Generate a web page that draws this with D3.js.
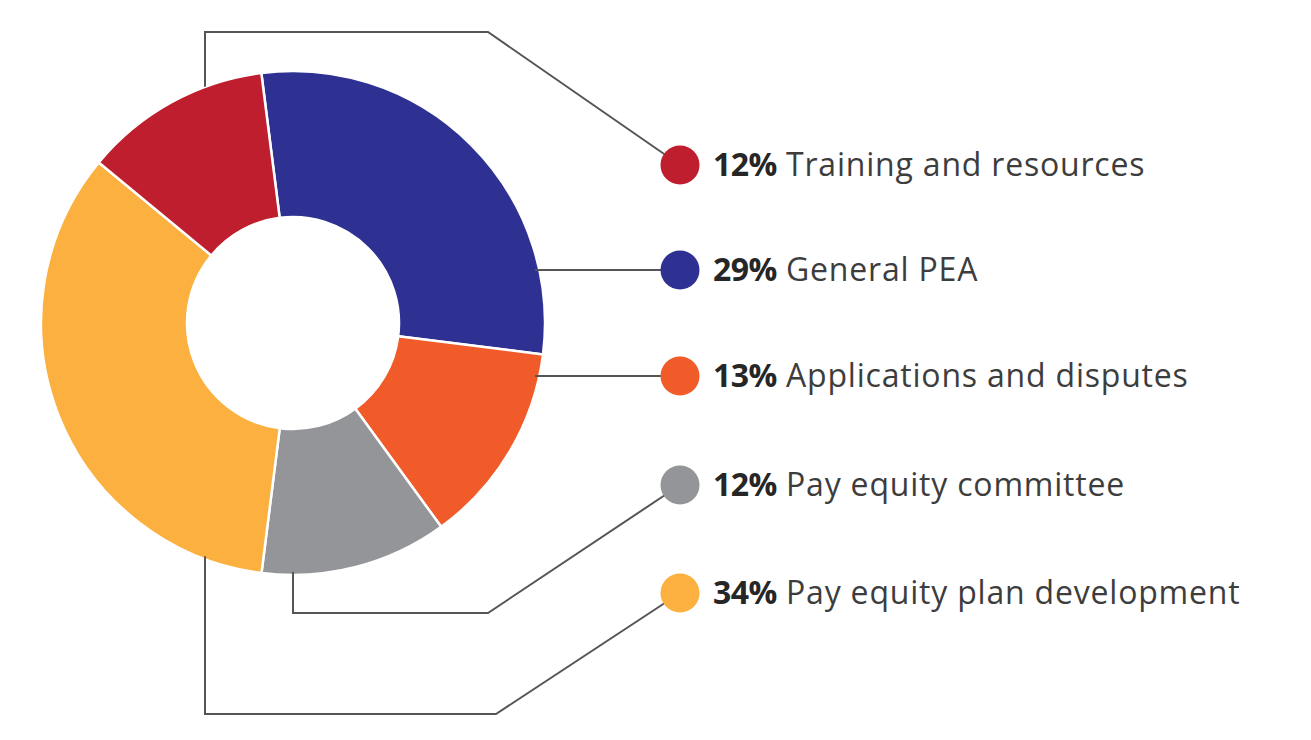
<!DOCTYPE html>
<html><head><meta charset="utf-8">
<script src="https://cdn.jsdelivr.net/npm/d3@7"></script>
<style>html,body{margin:0;padding:0;background:#fff;}svg{display:block;}</style>
</head><body>
<svg id="chart" width="1311" height="740"></svg>
<script>
// Data (in clockwise order around the donut, starting near 12 o'clock)
const categories = ["General PEA", "Applications and disputes", "Pay equity committee", "Pay equity plan development", "Training and resources"];
const values = [29, 13, 12, 34, 12];
const colors = ["#2E3192", "#F15A29", "#939598", "#FBB040", "#BE1E2D"];
// Legend order (top to bottom)
const legendOrder = ["Training and resources", "General PEA", "Applications and disputes", "Pay equity committee", "Pay equity plan development"];

const svg = d3.select("#chart");
const cx = 293, cy = 323, R = 252, r0 = 106;
const start = -0.126;

const pie = d3.pie().sort(null).value(d => d.v).startAngle(start).endAngle(start + 2 * Math.PI);
const data = categories.map((c, i) => ({c, v: values[i], col: colors[i]}));
const arcs = pie(data);
const arc = d3.arc().innerRadius(r0).outerRadius(R);

const g = svg.append("g").attr("transform", `translate(${cx},${cy})`);

const legX = 680;
const yAt = {"Training and resources":165,"General PEA":270,"Applications and disputes":376,"Pay equity committee":485,"Pay equity plan development":593};
const lines = svg.append("g").attr("fill", "none").attr("stroke", "#555").attr("stroke-width", 2);
function circY(x, sign) { const dx = x - cx; return cy + sign * Math.sqrt(R * R - dx * dx); }
lines.append("path").attr("d", d3.line()([[205, circY(205, -1)], [205, 32], [488, 32], [legX, yAt["Training and resources"]]]));
lines.append("path").attr("d", d3.line()([[535, yAt["General PEA"]], [legX, yAt["General PEA"]]]));
lines.append("path").attr("d", d3.line()([[535, yAt["Applications and disputes"]], [legX, yAt["Applications and disputes"]]]));
lines.append("path").attr("d", d3.line()([[293, circY(293, 1) - 3], [293, 613], [488, 613], [legX, yAt["Pay equity committee"]]]));
lines.append("path").attr("d", d3.line()([[205, circY(205, 1) - 3], [205, 714], [496, 714], [legX, yAt["Pay equity plan development"]]]));

g.selectAll("path.slice").data(arcs).join("path")
  .attr("class", "slice")
  .attr("d", arc)
  .attr("fill", d => d.data.col)
  .attr("stroke", "#fff")
  .attr("stroke-width", 2.5)
  .attr("stroke-linejoin", "round");

const byName = Object.fromEntries(data.map(d => [d.c, d]));
const leg = svg.append("g");
legendOrder.forEach(name => {
  const d = byName[name];
  const y = yAt[name];
  leg.append("circle").attr("cx", legX).attr("cy", y).attr("r", 19.5).attr("fill", d.col);
  const t = leg.append("text").attr("x", 713).attr("y", y + 11)
    .attr("font-family", "'Open Sans', sans-serif").attr("font-size", 32).attr("fill", "#3d3d3d");
  t.append("tspan").attr("font-weight", 700).attr("fill", "#262626").attr("letter-spacing", -0.5).text(d.v + "%");
  t.append("tspan").attr("letter-spacing", 0.8).text(" " + name);
});
</script>
</body></html>
